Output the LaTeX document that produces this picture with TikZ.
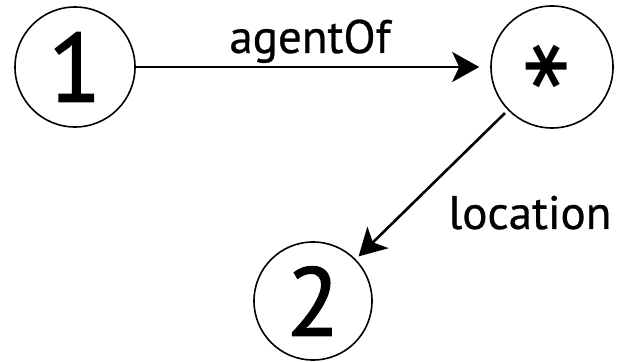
\documentclass[tikz,border=0pt]{standalone}
\usepackage{fontspec}
\setmainfont{PT Sans}
\newfontfamily\astfont{DejaVu Sans Bold}
\newfontfamily\digitfont[FakeBold=1.5]{PT Sans}
\newfontfamily\labelfont[FakeBold=0.6]{PT Sans}
\usetikzlibrary{arrows.meta}
\begin{document}
\begin{tikzpicture}[x=1pt,y=1pt,
  state/.style={circle,draw=black,line width=1.6pt,inner sep=0pt},
  conn/.style={line width=2.6pt,-{Stealth[length=27pt,width=30pt,inset=7pt]}},
  lbl/.style={font=\labelfont\fontsize{47}{52}\selectfont,inner sep=0pt,anchor=base},
  digit/.style={font=\digitfont\fontsize{97}{100}\selectfont}]
\useasboundingbox (0,0) rectangle (617,361);
\node[state,digit,minimum size=120pt] (one) at (75,294) {1};
\node[state,minimum size=122pt] (star) at (552,294) {};
\node[inner sep=0pt,rotate=90,font=\astfont\fontsize{88}{90}\selectfont] (ast) at (559,295) {*};
\node[state,digit,minimum size=118pt] (two) at (313,60) {2};
\draw[conn,shorten >=11pt] (one) -- (star);
\draw[conn,shorten <=4pt,shorten >=4pt] (star) -- (two);
\node[lbl] (l1) at (310,308) {agentOf};
\node[lbl] (l2) at (530,132) {location};
\end{tikzpicture}
\end{document}
